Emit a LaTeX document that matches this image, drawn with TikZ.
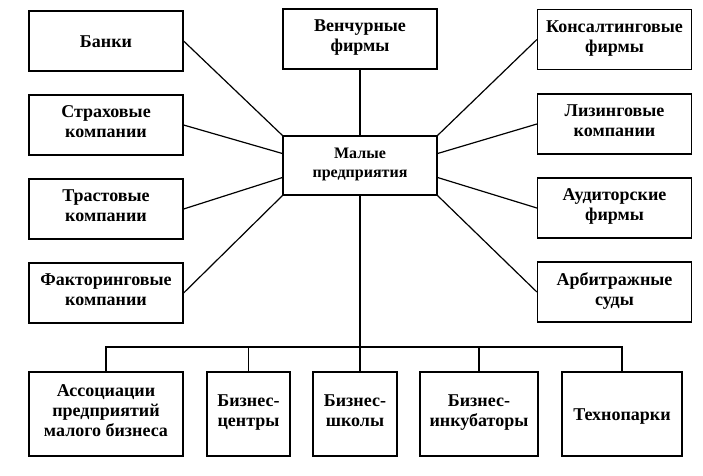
\documentclass[tikz,border=0pt]{standalone}
\usepackage{fontspec}
\setmainfont{Liberation Serif}
\begin{document}
\begin{tikzpicture}[x=1pt, y=-1pt, line width=1.2pt,
  main/.style = {draw, rectangle, align=center, inner sep=2pt,
    minimum width=154pt, minimum height=60pt,
    execute at begin node=\rule{0pt}{18pt}, execute at end node=\rule[-6pt]{0pt}{6pt},
    font=\bfseries\fontsize{18}{20}\selectfont},
  low/.style = {main, minimum height=84pt}]
  \useasboundingbox (0,0) rectangle (703,475);

  \node[main] (bank) at (106,41) {Банки};
  \node[main] (insur) at (106,125) {Страховые\\компании};
  \node[main] (trust) at (106,209) {Трастовые\\компании};
  \node[main] (factor) at (106,293) {Факторинговые\\компании};

  \node[main] (venture) at (360,39) {Венчурные\\фирмы};
  \node[main, minimum height=59pt, font=\bfseries\fontsize{16}{19}\selectfont] (small) at (360,165.5) {Малые\\предприятия};

  \node[main] (consult) at (614.5,39.5) {Консалтинговые\\фирмы};
  \node[main] (leasing) at (614.5,124) {Лизинговые\\компании};
  \node[main] (audit) at (614.5,208) {Аудиторские\\фирмы};
  \node[main] (court) at (614.5,292) {Арбитражные\\суды};

  \node[low] (assoc) at (106,414) {Ассоциации\\предприятий\\малого бизнеса};
  \node[low, minimum width=83pt] (centers) at (248.5,414) {Бизнес-\\центры};
  \node[low, minimum width=84pt] (schools) at (355,414) {Бизнес-\\школы};
  \node[low, minimum width=118pt] (incub) at (479,414) {Бизнес-\\инкубаторы};
  \node[low, minimum width=120pt] (tech) at (622,414) {Технопарки};

  \coordinate (bus) at (0,347);

  \draw (bank.east) -- (small.north west);
  \draw (insur.east) -- ([yshift=12pt]small.west);
  \draw (trust.east) -- ([yshift=-12pt]small.west);
  \draw (factor.east) -- (small.south west);

  \draw (venture.south) -- (small.north);

  \draw (consult.west) -- (small.north east);
  \draw (leasing.west) -- ([yshift=12pt]small.east);
  \draw (audit.west) -- ([yshift=-12pt]small.east);
  \draw (court.west) -- (small.south east);

  \draw (small.south) -- (small.south |- schools.north);
  \draw (assoc.north) -- (assoc.north |- bus) -- (tech.north |- bus) -- (tech.north);
  \draw (centers.north) -- (centers.north |- bus);
  \draw (incub.north) -- (incub.north |- bus);
\end{tikzpicture}
\end{document}
